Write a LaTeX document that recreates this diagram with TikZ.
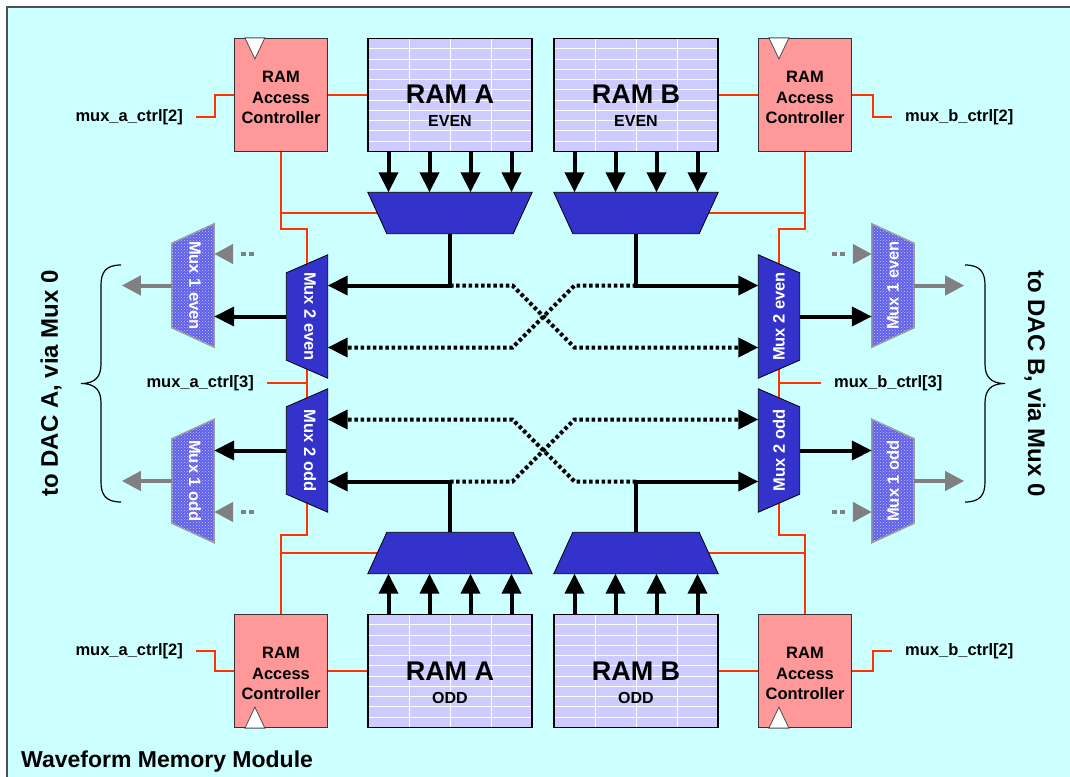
\documentclass[tikz,border=0pt]{standalone}
\usepackage{fontspec}
\setmainfont{Liberation Sans}
\usepackage{graphicx}
\usetikzlibrary{arrows.meta,calc,backgrounds,patterns}

\definecolor{bgcyan}{RGB}{204,255,255}
\definecolor{ctrlpink}{RGB}{255,153,153}
\definecolor{ramlav}{RGB}{204,204,255}
\definecolor{muxblue}{RGB}{51,51,204}
\definecolor{muxlight}{RGB}{96,96,232}
\definecolor{ctlred}{RGB}{255,51,0}
\definecolor{framegray}{RGB}{80,80,80}

\newcommand{\ractl}{\rule{0pt}{17pt}RAM\\Access\\Controller}

\tikzset{
    ctrl/.style={draw=black!80,line width=1.2pt,fill=ctrlpink,minimum width=93pt,
	minimum height=113pt,inner sep=0pt,align=center,
	font=\fontsize{16.5}{20.5}\selectfont\bfseries},
    clk/.style={fill=white,draw=black!70,line width=0.8pt},
    ram/.style={draw=black,line width=1.2pt,fill=ramlav,minimum width=164pt,
	minimum height=113pt,inner sep=0pt,
	path picture={
	    \foreach \k in {1,...,10}
		\draw [white,line width=1pt]
		($(path picture bounding box.north west)!{\k/11}!(path picture bounding box.south west)$) --
		($(path picture bounding box.north east)!{\k/11}!(path picture bounding box.south east)$);
	    \foreach \k in {1,2,3}
		\draw [white,line width=1pt]
		($(path picture bounding box.north west)!{\k/4}!(path picture bounding box.north east)$) --
		($(path picture bounding box.south west)!{\k/4}!(path picture bounding box.south east)$);
	}},
    ramtext/.style={align=center,inner sep=0pt,font=\fontsize{16}{23}\selectfont\bfseries},
    muxbox/.style={minimum width=164pt,minimum height=41pt,inner sep=0pt},
    mux2/.style={minimum width=41pt,minimum height=123pt,inner sep=0pt,text=white,
	font=\fontsize{16.5}{20}\selectfont\bfseries},
    mux1/.style={mux2,minimum width=42pt},
    muxfill/.style={draw=black,line width=0.8pt,fill=muxblue},
    mux1fill/.style={draw=black!40,line width=1.5pt,fill=muxlight,
	postaction={pattern=crosshatch dots,pattern color=white!65!muxlight}},
    bus/.style={line width=4pt,-{Triangle[length=20pt,width=19pt]}},
    dotbus/.style={bus,dash pattern=on 3.5pt off 2.7pt},
    grayout/.style={line width=4pt,draw=gray,-{Triangle[length=19pt,width=19pt]}},
    grayin/.style={grayout,line width=4.5pt,dash pattern=on 5pt off 3pt on 5pt off 30pt},
    ctl/.style={draw=ctlred,line width=2pt},
    sig/.style={inner xsep=13pt,inner ysep=0pt,font=\fontsize{16.5}{20}\selectfont\bfseries},
    dac/.style={inner sep=0pt,font=\fontsize{24}{28}\selectfont\bfseries},
    brace/.style={draw=black,line width=1.2pt}
}

\begin{document}
\begin{tikzpicture}[x=1pt,y=-1pt]
    \useasboundingbox (0,0) rectangle (1070,776);
    \begin{scope}[on background layer]
	\path [fill=bgcyan,draw=framegray,line width=1.5pt] (7,7) rectangle (1090,800);
    \end{scope}

    \path (281,95) node [ctrl] (ctlAe) {\ractl};
    \path (805,95) node [ctrl] (ctlBe) {\ractl};
    \path (281,671) node [ctrl] (ctlAo) {\ractl};
    \path (805,671) node [ctrl] (ctlBo) {\ractl};
    \foreach \c in {ctlAe,ctlBe}
	\draw [clk] ([xshift=11pt]\c.north west) -- ++(20,0) -- ++(-10,21) -- cycle;
    \foreach \c in {ctlAo,ctlBo}
	\draw [clk] ([xshift=11pt]\c.south west) -- ++(20,0) -- ++(-10,-21) -- cycle;

    \path (450,95) node [ram] (ramAe) {};
    \path (636,95) node [ram] (ramBe) {};
    \path (450,671) node [ram] (ramAo) {};
    \path (636,671) node [ram] (ramBo) {};
    \path (450,105.7) node [ramtext] (ramAeT) {{\fontsize{27}{27}\selectfont RAM A}\\EVEN};
    \path (636,105.7) node [ramtext] (ramBeT) {{\fontsize{27}{27}\selectfont RAM B}\\EVEN};
    \path (450,682.3) node [ramtext] (ramAoT) {{\fontsize{27}{27}\selectfont RAM A}\\ODD};
    \path (636,682.3) node [ramtext] (ramBoT) {{\fontsize{27}{27}\selectfont RAM B}\\ODD};

    \path (450,213) node [muxbox] (muxAe) {};
    \path (636,213) node [muxbox] (muxBe) {};
    \path (450,553) node [muxbox] (muxAo) {};
    \path (636,553) node [muxbox] (muxBo) {};
    \path (307,316.5) node [mux2] (m2Ae) {\hspace{6pt}\rotatebox{-90}{Mux 2 even}};
    \path (307,450.5) node [mux2] (m2Ao) {\hspace{6pt}\rotatebox{-90}{Mux 2 odd}};
    \path (779,316.5) node [mux2] (m2Be) {\rotatebox{90}{Mux 2 even}\hspace{6pt}};
    \path (779,450.5) node [mux2] (m2Bo) {\rotatebox{90}{Mux 2 odd}\hspace{6pt}};
    \path (193,285.5) node [mux1] (m1Ae) {\hspace{4pt}\rotatebox{-90}{Mux 1 even}};
    \path (193,481.0) node [mux1] (m1Ao) {\hspace{4pt}\rotatebox{-90}{Mux 1 odd}};
    \path (893,285.5) node [mux1] (m1Be) {\rotatebox{90}{Mux 1 even}\hspace{4pt}};
    \path (893,481.0) node [mux1] (m1Bo) {\rotatebox{90}{Mux 1 odd}\hspace{4pt}};

    \path (196,117) node [sig,anchor=east] (mxAe2) {mux\_a\_ctrl[2]};
    \path (892,117) node [sig,anchor=west] (mxBe2) {mux\_b\_ctrl[2]};
    \path (196,651) node [sig,anchor=east] (mxAo2) {mux\_a\_ctrl[2]};
    \path (892,651) node [sig,anchor=west] (mxBo2) {mux\_b\_ctrl[2]};
    \path (267,383) node [sig,anchor=east] (mxA3) {mux\_a\_ctrl[3]};
    \path (821,383) node [sig,anchor=west] (mxB3) {mux\_b\_ctrl[3]};
    \path (51,383.5) node [dac,rotate=90] (dacA) {to DAC A, via Mux 0};
    \path (1035,383.5) node [dac,rotate=-90] (dacB) {to DAC B, via Mux 0};
    \path (21,767) node [anchor=base west,inner sep=0pt,
	font=\fontsize{23}{27}\selectfont\bfseries] (title) {Waveform Memory Module};

    \begin{scope}[on background layer]
	\draw [ctl] (mxAe2.east) -- ++(19,0) |- (ctlAe.west);
	\draw [ctl] (mxAo2.east) -- ++(19,0) |- (ctlAo.west);
	\draw [ctl] (ctlBe.east) -- ++(21,0) |- (mxBe2.west);
	\draw [ctl] (ctlBo.east) -- ++(21,0) |- (mxBo2.west);
	\draw [ctl] (ctlAe.east) -- (ramAe.west);
	\draw [ctl] (ctlAo.east) -- (ramAo.west);
	\draw [ctl] (ramBe.east) -- (ctlBe.west);
	\draw [ctl] (ramBo.east) -- (ctlBo.west);
	\draw [ctl] (ctlAe.south) |- ([yshift=26pt]m2Ae.north) -- ([yshift=-23pt]m2Ao.south) -| (ctlAo.north);
	\draw [ctl] (ctlBe.south) |- ([yshift=26pt]m2Be.north) -- ([yshift=-23pt]m2Bo.south) -| (ctlBo.north);
	\draw [ctl] (ctlAe.south |- muxAe.west) -- ([xshift=9.5pt]muxAe.west);
	\draw [ctl] (ctlAo.north |- muxAo.west) -- ([xshift=9.5pt]muxAo.west);
	\draw [ctl] (ctlBe.south |- muxBe.east) -- ([xshift=-9.5pt]muxBe.east);
	\draw [ctl] (ctlBo.north |- muxBo.east) -- ([xshift=-9.5pt]muxBo.east);
	\draw [ctl] (mxA3.east) -- (mxA3.east -| m2Ae.center);
	\draw [ctl] (mxB3.west) -- (mxB3.west -| m2Be.center);

	\foreach \m in {muxAe,muxBe}
	    \draw [muxfill] (\m.north west) -- (\m.north east) -- ([xshift=-19pt]\m.south east)
		-- ([xshift=19pt]\m.south west) -- cycle;
	\foreach \m in {muxAo,muxBo}
	    \draw [muxfill] (\m.south west) -- (\m.south east) -- ([xshift=-19pt]\m.north east)
		-- ([xshift=19pt]\m.north west) -- cycle;
	\foreach \m in {m2Ae,m2Ao}
	    \draw [muxfill] (\m.north east) -- (\m.south east) -- ([yshift=18pt]\m.south west)
		-- ([yshift=-18pt]\m.north west) -- cycle;
	\foreach \m in {m2Be,m2Bo}
	    \draw [muxfill] (\m.north west) -- (\m.south west) -- ([yshift=18pt]\m.south east)
		-- ([yshift=-18pt]\m.north east) -- cycle;
	\foreach \m in {m1Ae,m1Ao}
	    \draw [mux1fill] (\m.north east) -- (\m.south east) -- ([yshift=19.5pt]\m.south west)
		-- ([yshift=-19.5pt]\m.north west) -- cycle;
	\foreach \m in {m1Be,m1Bo}
	    \draw [mux1fill] (\m.north west) -- (\m.south west) -- ([yshift=19.5pt]\m.south east)
		-- ([yshift=-19.5pt]\m.north east) -- cycle;
    \end{scope}

    \foreach \dx in {-61.5pt,-20.5pt,20.5pt,61.5pt} {
	\draw [bus] ([xshift=\dx]ramAe.south) -- ([xshift=\dx]muxAe.north);
	\draw [bus] ([xshift=\dx]ramBe.south) -- ([xshift=\dx]muxBe.north);
	\draw [bus] ([xshift=\dx]ramAo.north) -- ([xshift=\dx]muxAo.south);
	\draw [bus] ([xshift=\dx]ramBo.north) -- ([xshift=\dx]muxBo.south);
    }
    \draw [bus] (muxAe.south) |- ([yshift=31pt]m2Ae.east);
    \draw [bus] (muxBe.south) |- ([yshift=31pt]m2Be.west);
    \draw [bus] (muxAo.north) |- ([yshift=-31pt]m2Ao.east);
    \draw [bus] (muxBo.north) |- ([yshift=-31pt]m2Bo.west);
    \draw [dotbus] ($(muxAe.south |- m2Ae.east)+(0,-31)$) -- ++(62.5,0) -- ++(62,62)
	-- ([yshift=-31pt]m2Be.west);
    \draw [dotbus] ($(muxBe.south |- m2Be.west)+(0,-31)$) -- ++(-61.5,0) -- ++(-62,62)
	-- ([yshift=-31pt]m2Ae.east);
    \draw [dotbus] ($(muxAo.north |- m2Ao.east)+(0,31)$) -- ++(62.5,0) -- ++(62,-62)
	-- ([yshift=31pt]m2Bo.west);
    \draw [dotbus] ($(muxBo.north |- m2Bo.west)+(0,31)$) -- ++(-61.5,0) -- ++(-62,-62)
	-- ([yshift=31pt]m2Ao.east);

    \draw [bus] (m2Ae.west) -- (m2Ae.west -| m1Ae.east);
    \draw [bus] (m2Ao.west) -- (m2Ao.west -| m1Ao.east);
    \draw [bus] (m2Be.east) -- (m2Be.east -| m1Be.west);
    \draw [bus] (m2Bo.east) -- (m2Bo.east -| m1Bo.west);
    \draw [grayout] (m1Ae.west) -- ++(-50,0);
    \draw [grayout] (m1Ao.west) -- ++(-50,0);
    \draw [grayout] (m1Be.east) -- ++(50,0);
    \draw [grayout] (m1Bo.east) -- ++(50,0);
    \draw [grayin] ([xshift=40pt,yshift=31.5pt]m1Ae.east) -- ([yshift=31.5pt]m1Ae.east);
    \draw [grayin] ([xshift=40pt,yshift=-31pt]m1Ao.east) -- ([yshift=-31pt]m1Ao.east);
    \draw [grayin] ([xshift=-40pt,yshift=31.5pt]m1Be.west) -- ([yshift=31.5pt]m1Be.west);
    \draw [grayin] ([xshift=-40pt,yshift=-31pt]m1Bo.west) -- ([yshift=-31pt]m1Bo.west);

    \draw [brace] (121,265) .. controls (106,265) and (101,272) .. (101,285) -- (101,364)
	.. controls (101,376) and (96,383.5) .. (81,383.5)
	.. controls (96,383.5) and (101,391) .. (101,403) -- (101,482)
	.. controls (101,495) and (106,502) .. (121,502);
    \draw [brace] (965,265) .. controls (980,265) and (985,272) .. (985,285) -- (985,364)
	.. controls (985,376) and (990,383.5) .. (1005,383.5)
	.. controls (990,383.5) and (985,391) .. (985,403) -- (985,482)
	.. controls (985,495) and (980,502) .. (965,502);
\end{tikzpicture}
\end{document}
